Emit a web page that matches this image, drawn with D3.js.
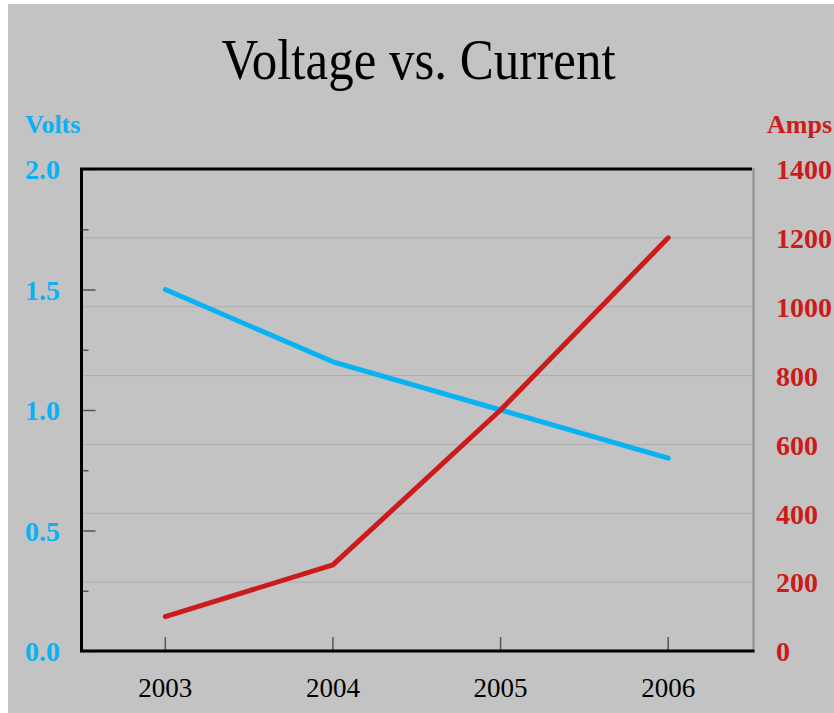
<!DOCTYPE html>
<html>
<head>
<meta charset="utf-8">
<script src="https://cdn.jsdelivr.net/npm/d3@7"></script>
<style>
  html, body { margin: 0; padding: 0; background: #ffffff; }
  svg { display: block; }
</style>
</head>
<body>
<svg id="chart" width="834" height="713"></svg>
<script>
// Yearly readings
const years = ["2003", "2004", "2005", "2006"];
const volts = [1.5, 1.2, 1.0, 0.8];
const amps = [100, 250, 700, 1200];

// Axis ticks
const voltTicks = [0.0, 0.5, 1.0, 1.5, 2.0];
const voltMinorTicks = [0.25, 0.75, 1.25, 1.75];
const ampTicks = [0, 200, 400, 600, 800, 1000, 1200, 1400];

const W = 834, H = 713;
const plot = { left: 81.5, right: 752, top: 169, bottom: 651 };

const blue = "#08b2f4";
const red = "#cc1b1b";
const serif = "'Liberation Serif', 'Times New Roman', Times, serif";

const svg = d3.select("#chart");

// page background panel
svg.append("rect").attr("x", 8).attr("y", 4).attr("width", W - 8).attr("height", H - 4)
  .attr("fill", "#c3c3c3");

const x = d3.scaleBand().domain(years).range([plot.left, plot.right]).padding(0);
const yL = d3.scaleLinear().domain([0, 2]).range([plot.bottom, plot.top]);
const yR = d3.scaleLinear().domain([0, 1400]).range([plot.bottom, plot.top]);
const cx = d => x(d) + x.bandwidth() / 2;

// title (slightly tall letterforms)
svg.append("text")
  .attr("transform", "translate(418.5,79) scale(1,1.12)")
  .attr("text-anchor", "middle")
  .attr("font-family", serif).attr("font-size", 51)
  .attr("fill", "#000")
  .text("Voltage vs. Current");

// horizontal gridlines at the amp ticks
svg.append("g").selectAll("line")
  .data(ampTicks.filter(v => v > 0 && v < 1400))
  .join("line")
  .attr("x1", plot.left).attr("x2", plot.right)
  .attr("y1", d => yR(d)).attr("y2", d => yR(d))
  .attr("stroke", "#acacac").attr("stroke-width", 1);

// left axis: major + minor ticks pointing into the plot, labels out at the edge
const leftMajor = svg.append("g").attr("transform", `translate(${plot.left},0)`)
  .call(d3.axisRight(yL).tickValues(voltTicks).tickSize(14).tickFormat(d3.format(".1f")));
leftMajor.select(".domain").remove();
leftMajor.selectAll(".tick line").attr("stroke", "#555").attr("stroke-width", 1.5);
leftMajor.selectAll(".tick text")
  .attr("x", 25 - plot.left).attr("dy", "0.35em")
  .attr("text-anchor", "start")
  .attr("font-family", serif).attr("font-size", 28).attr("font-weight", "bold")
  .attr("fill", blue);

const leftMinor = svg.append("g").attr("transform", `translate(${plot.left},0)`)
  .call(d3.axisRight(yL).tickValues(voltMinorTicks).tickSize(7).tickFormat(""));
leftMinor.select(".domain").remove();
leftMinor.selectAll(".tick line").attr("stroke", "#555").attr("stroke-width", 1.5);

// right axis labels
const right = svg.append("g").attr("transform", `translate(${plot.right},0)`)
  .call(d3.axisRight(yR).tickValues(ampTicks).tickSize(0).tickFormat(d3.format("d")));
right.select(".domain").remove();
right.selectAll(".tick text")
  .attr("x", 776 - plot.right).attr("dy", "0.35em")
  .attr("text-anchor", "start")
  .attr("font-family", serif).attr("font-size", 28).attr("font-weight", "bold")
  .attr("fill", red);

// bottom axis: tick marks rising from the baseline, year labels below
const bottom = svg.append("g").attr("transform", `translate(0,${plot.bottom})`)
  .call(d3.axisTop(x).tickSize(14));
bottom.select(".domain").remove();
bottom.selectAll(".tick line").attr("stroke", "#555").attr("stroke-width", 1.5);
bottom.selectAll(".tick text")
  .attr("y", 46).attr("dy", 0)
  .attr("font-family", serif).attr("font-size", 27)
  .attr("fill", "#000");

// frame: black top/left/bottom, grey right edge
svg.append("line").attr("x1", plot.right + 1.5).attr("x2", plot.right + 1.5)
  .attr("y1", plot.top - 1).attr("y2", plot.bottom + 1)
  .attr("stroke", "#9a9a9a").attr("stroke-width", 2.5);
svg.append("path")
  .attr("d", `M${plot.right},${plot.top}H${plot.left}V${plot.bottom}H${plot.right + 2.5}`)
  .attr("fill", "none").attr("stroke", "#000").attr("stroke-width", 3);

// axis titles
svg.append("text").attr("x", 25).attr("y", 133)
  .attr("font-family", serif).attr("font-size", 26).attr("font-weight", "bold")
  .attr("fill", blue).text("Volts");
svg.append("text").attr("x", 767).attr("y", 133)
  .attr("font-family", serif).attr("font-size", 26).attr("font-weight", "bold")
  .attr("fill", red).text("Amps");

// series lines
const voltLine = d3.line().x((d, i) => cx(years[i])).y(d => yL(d));
const ampLine = d3.line().x((d, i) => cx(years[i])).y(d => yR(d));

svg.append("path").datum(volts).attr("d", voltLine)
  .attr("fill", "none").attr("stroke", blue).attr("stroke-width", 5)
  .attr("stroke-linecap", "round").attr("stroke-linejoin", "round");
svg.append("path").datum(amps).attr("d", ampLine)
  .attr("fill", "none").attr("stroke", red).attr("stroke-width", 5)
  .attr("stroke-linecap", "round").attr("stroke-linejoin", "round");
</script>
</body>
</html>
